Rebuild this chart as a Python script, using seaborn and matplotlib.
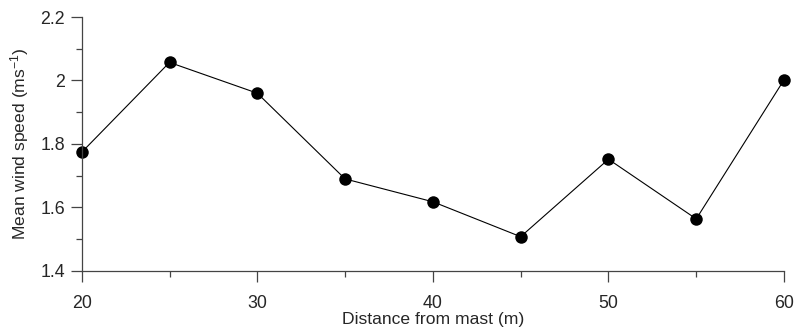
import pandas as pd
import seaborn as sns
import matplotlib
matplotlib.use("Agg")
import matplotlib.pyplot as plt
from matplotlib.ticker import MultipleLocator

# distancia al mastil y velocidad media del viento
distancia = [20, 25, 30, 35, 40, 45, 50, 55, 60]
velocidad = [1.774, 2.057, 1.960, 1.690, 1.618, 1.508, 1.752, 1.564, 2.002]

df = pd.DataFrame({"distancia": distancia, "velocidad": velocidad})

sns.set_style("ticks")
plt.rcParams["font.family"] = ["Liberation Sans", "DejaVu Sans"]
plt.rcParams["mathtext.default"] = "regular"

fig = plt.figure(figsize=(7.95, 3.36), dpi=100)
ax = fig.add_axes([0.1028, 0.1935, 0.8834, 0.7559])

sns.lineplot(
    data=df,
    x="distancia",
    y="velocidad",
    marker="o",
    markersize=9,
    color="black",
    linewidth=0.8,
    markeredgewidth=0,
    ax=ax,
    clip_on=False,
)

ax.set_xlim(20, 60)
ax.set_ylim(1.4, 2.2)
ax.xaxis.set_major_locator(MultipleLocator(10))
ax.xaxis.set_minor_locator(MultipleLocator(5))
ax.yaxis.set_minor_locator(MultipleLocator(0.1))
ax.set_yticks([1.4, 1.6, 1.8, 2.0, 2.2])
ax.set_yticklabels(["1.4", "1.6", "1.8", "2", "2.2"])

ax.tick_params(which="major", length=8, width=0.9, color="#444444", labelsize=12.8)
ax.tick_params(axis="x", which="major", pad=9)
ax.tick_params(axis="y", which="major", pad=4)
ax.tick_params(which="minor", length=4.3, width=0.9, color="#444444")

sns.despine(ax=ax)
for s in ["left", "bottom"]:
    ax.spines[s].set_color("#444444")
    ax.spines[s].set_linewidth(0.9)

ax.set_xlabel("Distance from mast (m)", fontsize=12.6, labelpad=0)
ax.set_ylabel("Mean wind speed (ms$^{-1}$)", fontsize=12.6, labelpad=7)

plt.savefig("out.png", dpi=100)
